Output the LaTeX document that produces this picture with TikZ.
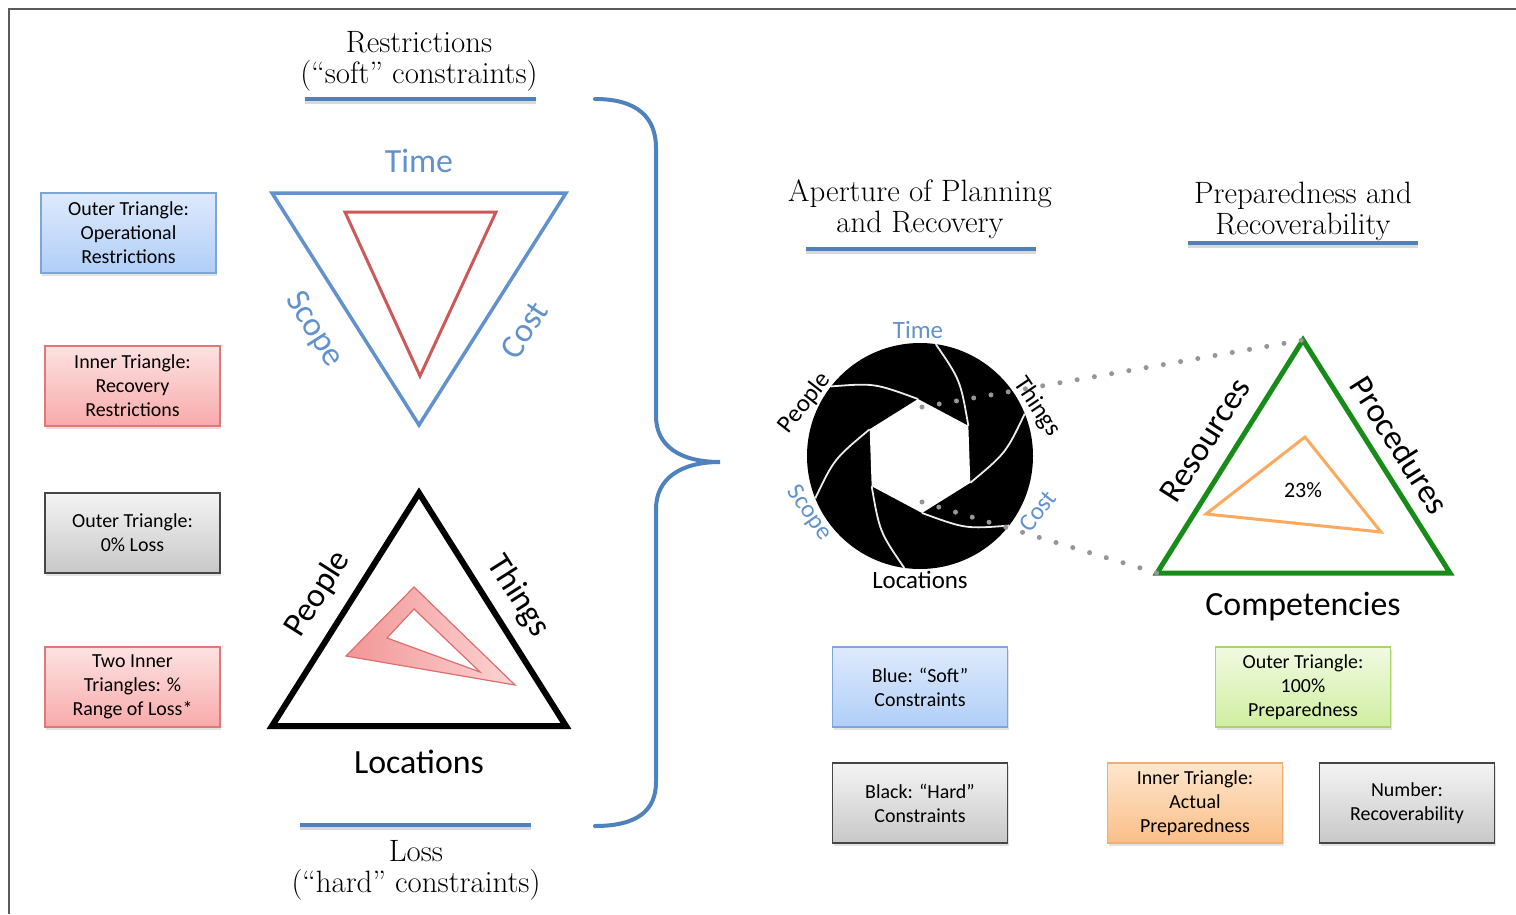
\documentclass[tikz,border=0pt]{standalone}
\usepackage{fontspec}
\newfontfamily\calfont{Carlito}
\usetikzlibrary{shadows}
\definecolor{tblue}{RGB}{79,129,189}
\definecolor{lblue}{RGB}{98,146,206}
\definecolor{ired}{RGB}{205,88,88}
\definecolor{tgreen}{RGB}{24,140,24}
\definecolor{torange}{RGB}{250,170,95}
\definecolor{dotgray}{RGB}{150,150,150}
\definecolor{frame}{RGB}{90,90,90}
\definecolor{bxblueD}{RGB}{125,165,215}
\definecolor{bxblueT}{RGB}{222,234,252}
\definecolor{bxblueB}{RGB}{176,206,248}
\definecolor{bxredD}{RGB}{225,120,120}
\definecolor{bxredT}{RGB}{253,226,226}
\definecolor{bxredB}{RGB}{248,170,170}
\definecolor{bxgrayD}{RGB}{70,70,70}
\definecolor{bxgrayT}{RGB}{244,244,244}
\definecolor{bxgrayB}{RGB}{200,200,200}
\definecolor{bxgreenD}{RGB}{170,210,110}
\definecolor{bxgreenT}{RGB}{240,250,225}
\definecolor{bxgreenB}{RGB}{208,238,160}
\definecolor{bxorD}{RGB}{240,175,115}
\definecolor{bxorT}{RGB}{254,230,205}
\definecolor{bxorB}{RGB}{250,190,135}
\definecolor{pinkL}{RGB}{242,150,150}
\definecolor{pinkR}{RGB}{252,212,212}
\definecolor{pinkD}{RGB}{222,110,110}
\tikzset{
  title/.style={font=\fontsize{31}{31}\selectfont, align=center, inner sep=0pt},
  uline/.style={tblue, line width=4bp},
  ushadow/.style={black, opacity=0.15, line width=3bp},
  lab/.style={font=\calfont\fontsize{34}{40}\selectfont, inner sep=0pt},
  slab/.style={font=\calfont\fontsize{25}{30}\selectfont, inner sep=0pt},
  box/.style={line width=1.5bp, minimum width=175bp, minimum height=80bp,
    align=center, font=\calfont\fontsize{20}{24}\selectfont, inner sep=2pt,
    drop shadow={opacity=0.22, shadow xshift=1bp, shadow yshift=-3bp}},
  bluebox/.style={box, draw=bxblueD, top color=bxblueT, bottom color=bxblueB},
  redbox/.style={box, draw=bxredD, top color=bxredT, bottom color=bxredB},
  graybox/.style={box, draw=bxgrayD, top color=bxgrayT, bottom color=bxgrayB},
  greenbox/.style={box, draw=bxgreenD, top color=bxgreenT, bottom color=bxgreenB},
  orbox/.style={box, draw=bxorD, top color=bxorT, bottom color=bxorB},
  dotline/.style={dotgray, line width=5bp, line cap=round, dash pattern=on 0pt off 17.5bp},
}
\begin{document}
\begin{tikzpicture}[x=1bp, y=-1bp]
\useasboundingbox (0,0) rectangle (1516,914);
\fill[white] (0,0) rectangle (1516,914);
% frame
\coordinate (fa) at (9,914);
\coordinate (fb) at (9,9);
\coordinate (fc) at (1516,9);
\draw[frame, line width=1.5bp] (fa) -- (fb) -- (fc);

% ---------- left titles ----------
\node[title] (rt) at (419,61) {Restrictions\\(“soft” constraints)};
\coordinate (ru1) at (305,99); \coordinate (ru2) at (536,99);
\draw[ushadow] ([yshift=-3bp]ru1) -- ([yshift=-3bp]ru2);
\draw[uline] (ru1) -- (ru2);
\coordinate (lu1) at (300,825); \coordinate (lu2) at (531,825);
\draw[ushadow] ([yshift=-3bp]lu1) -- ([yshift=-3bp]lu2);
\draw[uline] (lu1) -- (lu2);
\node[title] (lt) at (416,870) {Loss\\(“hard” constraints)};

% ---------- left boxes ----------
\node[bluebox] (b1) at (128.5,233) {Outer Triangle:\\Operational\\Restrictions};
\node[redbox] (b2) at (132.5,386) {Inner Triangle:\\Recovery\\Restrictions};
\node[graybox] (b3) at (132.5,533) {Outer Triangle:\\0\% Loss};
\node[redbox] (b4) at (132.5,687) {Two Inner\\Triangles: \%\\Range of Loss*};

% ---------- soft triangle ----------
\coordinate (s1) at (272,193); \coordinate (s2) at (566,193); \coordinate (s3) at (419,425);
\draw[lblue, line width=3.5bp] (s1) -- (s2) -- (s3) -- cycle;
\coordinate (r1) at (345,212); \coordinate (r2) at (496,212); \coordinate (r3) at (420,376);
\draw[ired, line width=3bp] (r1) -- (r2) -- (r3) -- cycle;
\node[lab, text=lblue] (lTime) at (419,161) {Time};
\node[lab, text=lblue, rotate=-57.6] (lScope) at (314,330) {Scope};
\node[lab, text=lblue, rotate=57.6] (lCost) at (524,330) {Cost};

% ---------- hard triangle ----------
\coordinate (h1) at (419,493); \coordinate (h2) at (566,726); \coordinate (h3) at (272,726);
\shade[left color=pinkL, right color=pinkR, even odd rule]
  (414,587) -- (515,685) -- (346,656) -- cycle
  (414,609) -- (480,672) -- (387,638) -- cycle;
\draw[pinkD, line width=1.2bp]
  (414,587) -- (515,685) -- (346,656) -- cycle
  (414,609) -- (480,672) -- (387,638) -- cycle;
\draw[black, line width=6bp] (h1) -- (h2) -- (h3) -- cycle;
\node[lab, rotate=57.6] (lPeople) at (318,594) {People};
\node[lab, rotate=-57.6] (lThings) at (518,596) {Things};
\node[lab] (lLoc) at (419,762) {Locations};

% ---------- brace ----------
\coordinate (bt) at (595,99); \coordinate (btip) at (720,462); \coordinate (bb) at (595,826);
\draw[tblue, line width=4bp, line cap=round]
  (bt) .. controls (638,99) and (656,118) .. (656,148) -- (656,416)
  .. controls (656,446) and (680,462) .. (btip)
  .. controls (680,462) and (656,479) .. (656,509) -- (656,782)
  .. controls (656,810) and (638,826) .. (bb);

% ---------- right titles ----------
\node[title] (at) at (920,209) {Aperture of Planning\\and Recovery};
\coordinate (au1) at (806,249); \coordinate (au2) at (1036,249);
\draw[ushadow] ([yshift=-3bp]au1) -- ([yshift=-3bp]au2);
\draw[uline] (au1) -- (au2);
\node[title] (pt) at (1303,211) {Preparedness and\\Recoverability};
\coordinate (pu1) at (1188,243); \coordinate (pu2) at (1418,243);
\draw[ushadow] ([yshift=-3bp]pu1) -- ([yshift=-3bp]pu2);
\draw[uline] (pu1) -- (pu2);

% ---------- aperture ----------
\begin{scope}[shift={(920,456)}]
  \fill[black] (0,0) circle[radius=113];
  \fill[white] (-92:57) -- (-32:57) -- (28:57) -- (88:57) -- (148:57) -- (208:57) -- cycle;
  \foreach \p [evaluate=\p as \a using \p-50, evaluate=\p as \c using \p-30] in {-92,-32,28,88,148,208}
    \draw[white!85!gray, line width=1.8bp] (\a:113) .. controls (\c:86) .. (\p:57);
\end{scope}
\node[slab, text=lblue] (apT) at (918,330) {Time};
\node[slab, rotate=52] (apP) at (805,403) {People};
\node[slab, rotate=-56] (apTh) at (1037,407) {Things};
\node[slab, text=lblue, rotate=-55] (apS) at (809,513) {Scope};
\node[slab, text=lblue, rotate=52] (apC) at (1038,511) {Cost};
\node[slab] (apL) at (920,580) {Locations};

% ---------- preparedness triangle ----------
\coordinate (g1) at (1303,340); \coordinate (g2) at (1450,573); \coordinate (g3) at (1157,573);
\coordinate (o1) at (1305,437); \coordinate (o2) at (1381,532); \coordinate (o3) at (1206,514);
\draw[torange, line width=3bp] (o1) -- (o2) -- (o3) -- cycle;
\draw[tgreen, line width=5bp] (g1) -- (g2) -- (g3) -- cycle;
\node[font=\calfont\fontsize{22}{26}\selectfont] (pct) at (1303,490) {23\%};
\node[lab, rotate=57.6] (lRes) at (1205,440) {Resources};
\node[lab, rotate=-57.6] (lProc) at (1400,445) {Procedures};
\node[lab] (lComp) at (1303,607) {Competencies};

% ---------- dotted connectors ----------
\coordinate (d1) at (922,407);
\coordinate (d2) at (922,502);
\draw[dotline] (d1) -- (g1);
\draw[dotline] (d2) -- (g3);

% ---------- right boxes ----------
\node[bluebox] (rb1) at (920,687) {Blue: “Soft”\\Constraints};
\node[graybox] (rb2) at (920,803) {Black: “Hard”\\Constraints};
\node[greenbox] (rb3) at (1303,687) {Outer Triangle:\\100\%\\Preparedness};
\node[orbox] (rb4) at (1195,803) {Inner Triangle:\\Actual\\Preparedness};
\node[graybox] (rb5) at (1407,803) {Number:\\Recoverability};
\end{tikzpicture}
\end{document}
